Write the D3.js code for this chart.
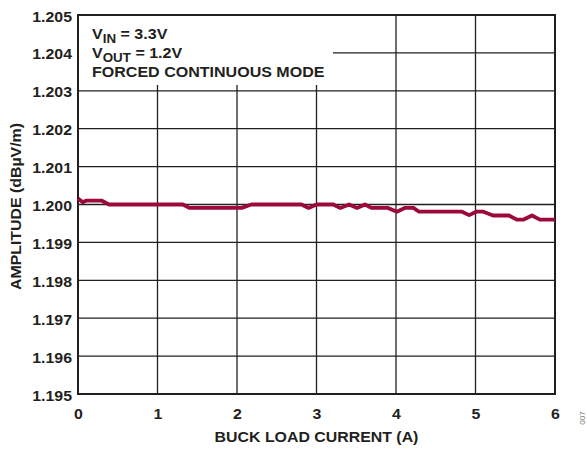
<!DOCTYPE html>
<html><head><meta charset="utf-8">
<script src="https://cdn.jsdelivr.net/npm/d3@7"></script>
<style>
html,body{margin:0;padding:0;background:#fff;}
svg text{font-family:"Liberation Sans",Arial,sans-serif;font-weight:bold;fill:#231f20;}
</style></head>
<body>
<svg id="chart" width="587" height="451"></svg>
<script>
const currentA = [0, 0.06, 0.1, 0.3, 0.39, 1.32, 1.40, 2.06, 2.18, 2.81, 2.90, 3.0, 3.21, 3.30, 3.41, 3.51, 3.61, 3.69, 3.90, 4.01, 4.11, 4.22, 4.29, 4.83, 4.92, 5.01, 5.10, 5.22, 5.42, 5.52, 5.60, 5.71, 5.81, 6.0];
const amplitude = [1.20016, 1.20006, 1.2001, 1.2001, 1.2000, 1.2000, 1.19991, 1.19991, 1.2000, 1.2000, 1.19991, 1.2000, 1.2000, 1.19991, 1.2000, 1.19991, 1.2000, 1.19991, 1.19991, 1.19981, 1.19991, 1.19991, 1.19981, 1.19981, 1.19972, 1.19981, 1.19981, 1.19971, 1.19971, 1.1996, 1.1996, 1.19971, 1.1996, 1.1996];
const xTicks = [0, 1, 2, 3, 4, 5, 6];
const yTicks = [1.195, 1.196, 1.197, 1.198, 1.199, 1.200, 1.201, 1.202, 1.203, 1.204, 1.205];
const annotation = [["V", "IN", " = 3.3V"], ["V", "OUT", " = 1.2V"], ["FORCED CONTINUOUS MODE", "", ""]];
const xTitle = "BUCK LOAD CURRENT (A)";
const yTitle = "AMPLITUDE (dBµV/m)";
const figId = "007";

const svg = d3.select("#chart");
const L = 78, R = 555, T = 15, B = 394;
const FS = "15px", SX = 1.06;
const x = d3.scaleLinear().domain([0, 6]).range([L, R]);
const y = d3.scaleLinear().domain([1.195, 1.205]).range([B, T]);

// grid
const g = svg.append("g");
g.selectAll("line.v").data(xTicks.slice(1, -1)).join("line")
  .attr("x1", d => x(d)).attr("x2", d => x(d)).attr("y1", T).attr("y2", B)
  .attr("stroke", "#231f20").attr("stroke-width", 1.3);
g.selectAll("line.h").data(yTicks.slice(1, -1)).join("line")
  .attr("x1", L).attr("x2", R).attr("y1", d => y(d)).attr("y2", d => y(d))
  .attr("stroke", "#231f20").attr("stroke-width", 1.3);

// annotation mask
svg.append("rect").attr("x", L + 1).attr("y", T + 1).attr("width", 333 - L - 1).attr("height", 85 - T - 1).attr("fill", "#fff");

// frame
svg.append("rect").attr("x", L).attr("y", T).attr("width", R - L).attr("height", B - T)
  .attr("fill", "none").attr("stroke", "#231f20").attr("stroke-width", 2);

// axes labels via d3 axes
const xAxis = svg.append("g").attr("transform", `translate(0,${B})`)
  .call(d3.axisBottom(x).tickValues(xTicks).tickSize(0).tickPadding(0).tickFormat(d3.format("d")));
xAxis.select(".domain").remove();
xAxis.selectAll("text").attr("dy", null).attr("y", 25).attr("transform", `scale(${SX},1)`);

const yAxis = svg.append("g").attr("transform", `translate(${L},0)`)
  .call(d3.axisLeft(y).tickValues(yTicks).tickSize(0).tickPadding(0).tickFormat(d3.format(".3f")));
yAxis.select(".domain").remove();
yAxis.selectAll("text").attr("dy", null).attr("x", -6 / SX).attr("y", 6).attr("transform", `scale(${SX},1)`);
svg.selectAll(".tick text").attr("font-family", null).attr("font-size", null).attr("fill", null).style("font-size", FS);

// data line
svg.append("path").datum(currentA.map((c, i) => [c, amplitude[i]]))
  .attr("d", d3.line().x(d => x(d[0])).y(d => y(d[1])))
  .attr("fill", "none").attr("stroke", "#9b0a3a").attr("stroke-width", 3.8).attr("stroke-linejoin", "round");

// annotation text
const baselines = [39, 58, 77];
annotation.forEach((a, i) => {
  const t = svg.append("text").attr("transform", `translate(92,${baselines[i]}) scale(1.07,1)`).style("font-size", FS);
  t.append("tspan").text(a[0]);
  if (a[1]) t.append("tspan").attr("dy", 4).style("font-size", "12.5px").text(a[1]);
  if (a[2]) t.append("tspan").attr("dy", a[1] ? -4 : 0).text(a[2]);
});

// titles
svg.append("text").attr("transform", `translate(${(L + R) / 2},442) scale(${SX},1)`).attr("text-anchor", "middle").style("font-size", FS).text(xTitle);
svg.append("text").attr("transform", `translate(21,${(T + B) / 2 + 2}) rotate(-90) scale(${SX},1)`).attr("text-anchor", "middle").style("font-size", FS).text(yTitle);
svg.append("text").attr("transform", `translate(585,418) rotate(-90)`).attr("text-anchor", "middle")
  .style("font-size", "8px").style("font-weight", "normal").style("fill", "#777").text(figId);
</script>
</body></html>
